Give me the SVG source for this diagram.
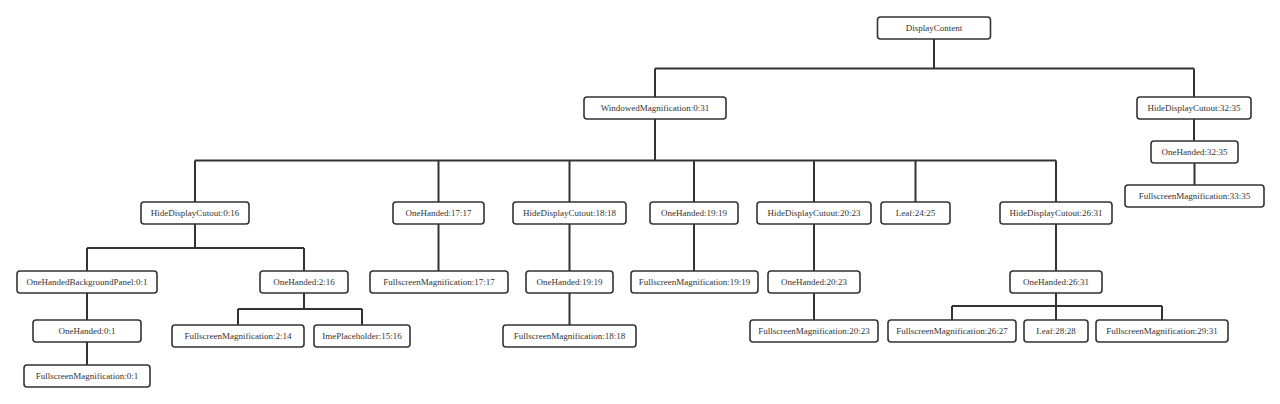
<svg xmlns="http://www.w3.org/2000/svg" width="1280" height="404" viewBox="0 0 1280 404">
<style>
.n rect{fill:#fff;stroke:#333;stroke-width:1.6;}
.n text{font-family:"Liberation Serif","Times New Roman",serif;font-size:9px;fill:#333;text-anchor:middle;dominant-baseline:central;}
#connectors path{fill:none;stroke:#333;stroke-width:2;}
</style>
<rect width="1280" height="404" fill="#fff"/>
<g id="connectors">
<path d="M934 39V68.5M655 68.5H1194M655 68.5V97M1194 68.5V97"/>
<path d="M655 119V160.5M195 160.5H1056M195 160.5V202M438.5 160.5V202M569.5 160.5V202M694 160.5V202M814 160.5V202M915.5 160.5V202M1056 160.5V202"/>
<path d="M1194 119V141M1194.5 163V185"/>
<path d="M195 224V248M87 248H304M87 248V271M304 248V271"/>
<path d="M87 293V320M87 342V365"/>
<path d="M304 293V309M238 309H362M238 309V325M362 309V325"/>
<path d="M438.5 224V271"/>
<path d="M569.5 224V271M569.5 293V325"/>
<path d="M694 224V271"/>
<path d="M814 224V271M814 293V320"/>
<path d="M1056 224V271M1056 293V306M952 306H1162M952 306V320M1056 306V320M1162 306V320"/>
</g>
<g id="n1" class="n"><rect x="877.5" y="17" width="113" height="22" rx="3"/><text x="934" y="28">DisplayContent</text></g>
<g id="n2" class="n"><rect x="584" y="97" width="142" height="22" rx="3"/><text x="655" y="108">WindowedMagnification:0:31</text></g>
<g id="n3" class="n"><rect x="1137" y="97" width="114" height="22" rx="3"/><text x="1194" y="108">HideDisplayCutout:32:35</text></g>
<g id="n4" class="n"><rect x="1151" y="141" width="87" height="22" rx="3"/><text x="1194.5" y="152">OneHanded:32:35</text></g>
<g id="n5" class="n"><rect x="1125" y="185" width="139" height="22" rx="3"/><text x="1194.5" y="196">FullscreenMagnification:33:35</text></g>
<g id="n6" class="n"><rect x="141" y="202" width="108" height="22" rx="3"/><text x="195" y="213">HideDisplayCutout:0:16</text></g>
<g id="n7" class="n"><rect x="393" y="202" width="91" height="22" rx="3"/><text x="438.5" y="213">OneHanded:17:17</text></g>
<g id="n8" class="n"><rect x="513" y="202" width="113" height="22" rx="3"/><text x="569.5" y="213">HideDisplayCutout:18:18</text></g>
<g id="n9" class="n"><rect x="650" y="202" width="88" height="22" rx="3"/><text x="694" y="213">OneHanded:19:19</text></g>
<g id="n10" class="n"><rect x="757" y="202" width="114" height="22" rx="3"/><text x="814" y="213">HideDisplayCutout:20:23</text></g>
<g id="n11" class="n"><rect x="881" y="202" width="69" height="22" rx="3"/><text x="915.5" y="213">Leaf:24:25</text></g>
<g id="n12" class="n"><rect x="1000" y="202" width="112" height="22" rx="3"/><text x="1056" y="213">HideDisplayCutout:26:31</text></g>
<g id="n13" class="n"><rect x="17" y="271" width="140" height="22" rx="3"/><text x="87" y="282">OneHandedBackgroundPanel:0:1</text></g>
<g id="n14" class="n"><rect x="260" y="271" width="88" height="22" rx="3"/><text x="304" y="282">OneHanded:2:16</text></g>
<g id="n15" class="n"><rect x="370" y="271" width="138" height="22" rx="3"/><text x="439" y="282">FullscreenMagnification:17:17</text></g>
<g id="n16" class="n"><rect x="526" y="271" width="87" height="22" rx="3"/><text x="569.5" y="282">OneHanded:19:19</text></g>
<g id="n17" class="n"><rect x="631" y="271" width="127" height="22" rx="3"/><text x="694.5" y="282">FullscreenMagnification:19:19</text></g>
<g id="n18" class="n"><rect x="768" y="271" width="92" height="22" rx="3"/><text x="814" y="282">OneHanded:20:23</text></g>
<g id="n19" class="n"><rect x="1010" y="271" width="92" height="22" rx="3"/><text x="1056" y="282">OneHanded:26:31</text></g>
<g id="n20" class="n"><rect x="33" y="320" width="108" height="22" rx="3"/><text x="87" y="331">OneHanded:0:1</text></g>
<g id="n21" class="n"><rect x="172" y="325" width="132" height="22" rx="3"/><text x="238" y="336">FullscreenMagnification:2:14</text></g>
<g id="n22" class="n"><rect x="314" y="325" width="96" height="22" rx="3"/><text x="362" y="336">ImePlaceholder:15:16</text></g>
<g id="n23" class="n"><rect x="503" y="325" width="133" height="22" rx="3"/><text x="569.5" y="336">FullscreenMagnification:18:18</text></g>
<g id="n24" class="n"><rect x="750" y="320" width="128" height="22" rx="3"/><text x="814" y="331">FullscreenMagnification:20:23</text></g>
<g id="n25" class="n"><rect x="888" y="320" width="128" height="22" rx="3"/><text x="952" y="331">FullscreenMagnification:26:27</text></g>
<g id="n26" class="n"><rect x="1024" y="320" width="64" height="22" rx="3"/><text x="1056" y="331">Leaf:28:28</text></g>
<g id="n27" class="n"><rect x="1096" y="320" width="132" height="22" rx="3"/><text x="1162" y="331">FullscreenMagnification:29:31</text></g>
<g id="n28" class="n"><rect x="24" y="365" width="126" height="22" rx="3"/><text x="87" y="376">FullscreenMagnification:0:1</text></g>
</svg>
